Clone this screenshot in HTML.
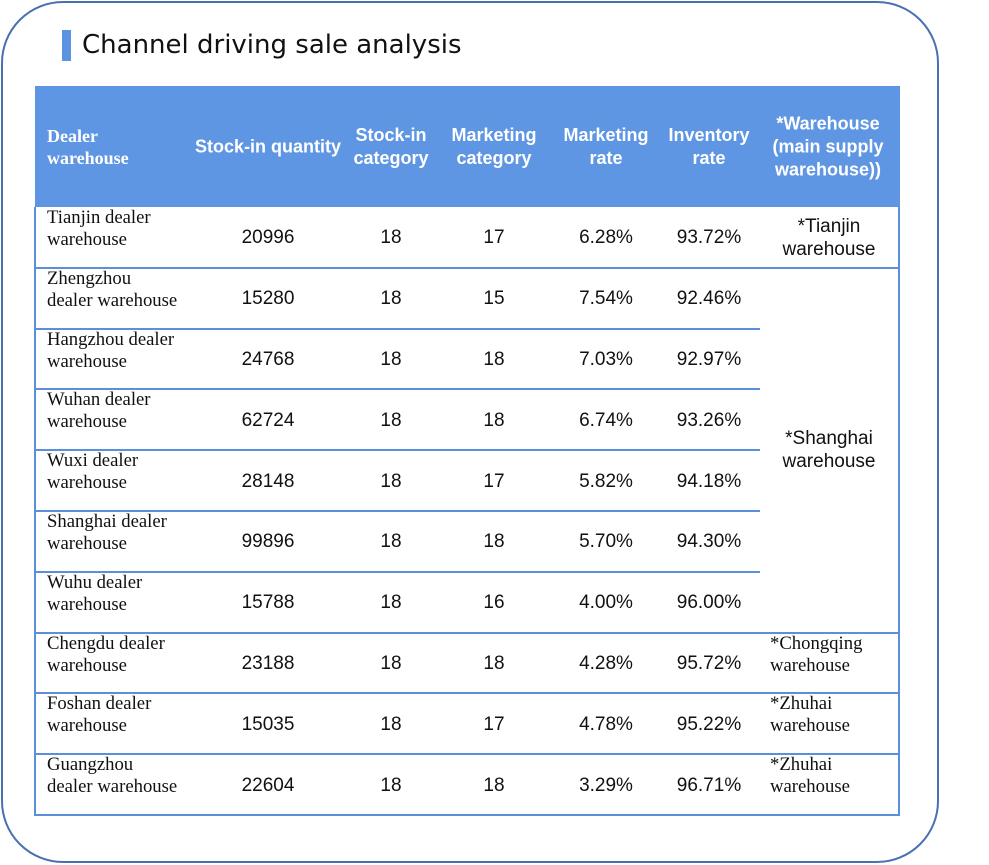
<!DOCTYPE html>
<html><head><meta charset="utf-8"><style>
body{margin:0;width:989px;height:865px;background:#fff;position:relative;overflow:hidden;font-family:"Liberation Sans",sans-serif}
.box{position:absolute;left:1px;top:1px;width:934px;height:858px;border:2px solid #4a70b4;border-radius:62px}
.bar{position:absolute;left:62px;top:30px;width:9px;height:31px;background:#5b93e0}
.title{position:absolute;left:82px;top:30px;font-size:26px;color:#111;font-family:"DejaVu Sans","Liberation Sans",sans-serif}
.hdr{position:absolute;left:35px;top:86px;width:865px;height:121px;background:#5f96e3}
.t{position:absolute;transform:translate(-50%,-50%);text-align:center;white-space:nowrap}
.h{color:#fff;font-weight:bold;font-size:18px;line-height:23px}
.c{color:#111;font-size:19px}
.s{position:absolute;font-family:"Liberation Serif",serif;font-size:18.7px;line-height:22px;color:#111;white-space:nowrap}
.ln{position:absolute;height:2px;background:#5b8fd9}
.vl{position:absolute;width:2px;background:#5b8fd9}
</style></head><body>
<div class="box"></div>
<div class="bar"></div>
<div class="title">Channel driving sale analysis</div>
<div class="hdr"></div>
<div class="s" style="left:47px;top:125px;color:#fff;font-weight:bold;font-size:18px">Dealer<br>warehouse</div>
<div class="t h" style="left:268px;top:147px">Stock-in quantity</div>
<div class="t h" style="left:391px;top:147px">Stock-in<br>category</div>
<div class="t h" style="left:494px;top:147px">Marketing<br>category</div>
<div class="t h" style="left:606px;top:147px">Marketing<br>rate</div>
<div class="t h" style="left:709px;top:147px">Inventory<br>rate</div>
<div class="t h" style="left:828px;top:147px">*Warehouse<br>(main supply<br>warehouse))</div>
<div class="vl" style="left:34px;top:207px;height:609px"></div>
<div class="vl" style="left:898px;top:207px;height:609px"></div>
<div id="rows"></div>
<script>
const names=["Tianjin dealer<br>warehouse","Zhengzhou<br>dealer warehouse","Hangzhou dealer<br>warehouse","Wuhan dealer<br>warehouse","Wuxi dealer<br>warehouse","Shanghai dealer<br>warehouse","Wuhu dealer<br>warehouse","Chengdu dealer<br>warehouse","Foshan dealer<br>warehouse","Guangzhou<br>dealer warehouse"];
const qty=["20996","15280","24768","62724","28148","99896","15788","23188","15035","22604"];
const scat=["18","18","18","18","18","18","18","18","18","18"];
const mcat=["17","15","18","18","17","18","16","18","17","18"];
const mrate=["6.28%","7.54%","7.03%","6.74%","5.82%","5.70%","4.00%","4.28%","4.78%","3.29%"];
const irate=["93.72%","92.46%","92.97%","93.26%","94.18%","94.30%","96.00%","95.72%","95.22%","96.71%"];
const root=document.getElementById('rows');
const top0=207,rh=60.8;
function add(cls,style,html,name){const d=document.createElement('div');d.className=cls;d.style.cssText=style;d.innerHTML=html;


root.appendChild(d);}
for(let i=0;i<names.length;i++){
 const y=top0+i*rh, cy=y+rh/2+1;
 add('s',`left:47px;top:${y}px`,names[i],'row-dealer-name');
 add('t c',`left:268px;top:${cy}px`,qty[i],'row-stock-in-quantity');
 add('t c',`left:391px;top:${cy}px`,scat[i],'row-stock-in-category');
 add('t c',`left:494px;top:${cy}px`,mcat[i],'row-marketing-category');
 add('t c',`left:606px;top:${cy}px`,mrate[i],'row-marketing-rate');
 add('t c',`left:709px;top:${cy}px`,irate[i],'row-inventory-rate');
 const merged=(i>=1&&i<=6);
 const w=(merged&&i<6)?725:865;
 add('ln',`left:35px;top:${y+rh-1}px;width:${w}px`,'','row-divider');
}
add('t c',`left:829px;top:${top0+rh/2+1}px;line-height:23px`,'*Tianjin<br>warehouse','warehouse-tianjin');
add('t c',`left:829px;top:${top0+rh*4}px;line-height:23px`,'*Shanghai<br>warehouse','warehouse-shanghai');
add('s',`left:770px;top:${top0+7*rh}px`,'*Chongqing<br>warehouse','warehouse-chongqing');
add('s',`left:770px;top:${top0+8*rh}px`,'*Zhuhai<br>warehouse','warehouse-zhuhai');
add('s',`left:770px;top:${top0+9*rh}px`,'*Zhuhai<br>warehouse','warehouse-zhuhai');
</script>
</body></html>
